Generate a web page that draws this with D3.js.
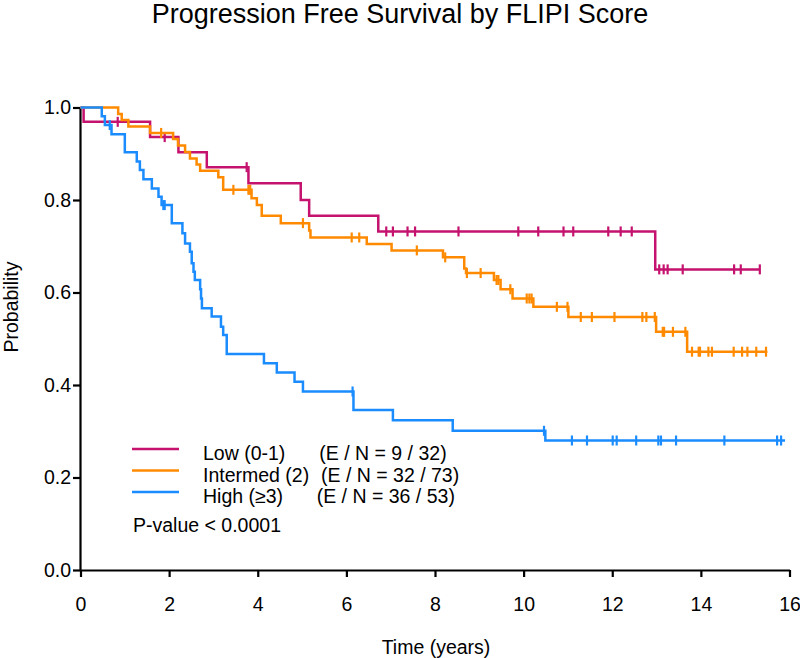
<!DOCTYPE html>
<html>
<head>
<meta charset="utf-8">
<script src="https://cdn.jsdelivr.net/npm/d3@7"></script>
<style>
  html, body { margin: 0; padding: 0; background: #fff; }
  svg { display: block; font-family: "Liberation Sans", Arial, Helvetica, sans-serif; }
</style>
</head>
<body>
<svg id="chart" width="800" height="658"></svg>
<script>
// ---------------- DATA ----------------
const title = "Progression Free Survival by FLIPI Score";
const xLabel = "Time (years)";
const yLabel = "Probability";
const xTicks = [0, 2, 4, 6, 8, 10, 12, 14, 16];
const yTicks = [0, 0.2, 0.4, 0.6, 0.8, 1.0];

const groupNames = ["Low (0-1)", "Intermed (2)", "High (\u22653)"];
const groupCounts = ["(E / N = 9 / 32)", "(E / N = 32 / 73)", "(E / N = 36 / 53)"];
const pValueText = "P-value < 0.0001";

// Low (0-1): event times, survival after each event, censoring times
const lowTimes = [0.07, 1.57, 2.21, 2.85, 3.79, 4.97, 5.16, 6.72, 12.97];
const lowSurv  = [0.969, 0.936, 0.903, 0.871, 0.836, 0.800, 0.766, 0.732, 0.650];
const lowCensor = [0.84, 1.90, 3.75, 6.90, 7.05, 7.38, 7.55, 8.53, 9.88, 10.33, 10.90, 11.12,
                   11.91, 12.19, 12.44, 13.06, 13.16, 13.25, 13.59, 14.75, 14.90, 15.33];
const lowEnd = 15.33;

// Intermed (2)
const midTimes = [0.85, 0.93, 1.08, 1.57, 2.09, 2.20, 2.36, 2.47, 2.62, 2.70, 3.11, 3.22, 3.86, 3.98,
                  4.09, 4.52, 5.16, 5.19, 6.46, 7.02, 8.18, 8.66, 8.70, 9.33, 9.48, 9.75, 10.22, 11.01,
                  12.99, 13.69];
const midSurv  = [0.986, 0.973, 0.959, 0.945, 0.932, 0.918, 0.904, 0.890, 0.877, 0.863, 0.849, 0.822,
                  0.804, 0.789, 0.766, 0.750, 0.734, 0.719, 0.705, 0.691, 0.676, 0.652, 0.642, 0.627,
                  0.607, 0.587, 0.569, 0.547, 0.515, 0.472];
const midCensor = [1.82, 3.45, 3.79, 3.83, 5.02, 6.12, 6.29, 7.59, 8.23, 8.72, 9.03, 9.39, 9.43, 9.70,
                   10.07, 10.13, 10.18, 10.75, 10.99, 11.29, 11.54, 12.05, 12.68, 12.77, 12.96, 13.14,
                   13.17, 13.37, 13.65, 13.80, 13.95, 13.98, 14.17, 14.25, 14.74, 14.93, 15.05, 15.25, 15.47];
const midEnd = 15.50;

// High (>=3)
const highTimes = [0.48, 0.55, 0.70, 1.00, 1.27, 1.34, 1.42, 1.61, 1.76, 1.83, 2.06, 2.30, 2.36, 2.47,
                   2.51, 2.55, 2.58, 2.70, 2.72, 2.74, 2.96, 3.17, 3.22, 3.30, 4.14, 4.43, 4.83, 5.02,
                   6.16, 7.05, 8.40, 10.49];
const highSurv  = [0.981, 0.962, 0.942, 0.903, 0.883, 0.865, 0.845, 0.825, 0.807, 0.789, 0.750, 0.728,
                   0.706, 0.688, 0.663, 0.645, 0.627, 0.607, 0.587, 0.566, 0.548, 0.526, 0.508, 0.467,
                   0.447, 0.427, 0.407, 0.386, 0.346, 0.324, 0.301, 0.280];
const highCensor = [0.66, 1.87, 1.90, 6.14, 10.46, 11.09, 11.43, 12.01, 12.10, 12.54, 13.04, 13.10,
                    13.44, 14.53, 15.72, 15.81];
const highEnd = 15.90;

const colors = ["#C4126E", "#FF8A00", "#1A8CFF"];

// ---------------- LAYOUT ----------------
const svg = d3.select("#chart");
const x = d3.scaleLinear().domain([0, 16]).range([80.5, 789.5]);
const y = d3.scaleLinear().domain([0, 1]).range([570, 107.5]);
const fontSize = 19.5;

const groups = [
  {times: lowTimes, surv: lowSurv, censor: lowCensor, end: lowEnd},
  {times: midTimes, surv: midSurv, censor: midCensor, end: midEnd},
  {times: highTimes, surv: highSurv, censor: highCensor, end: highEnd}
];

function survAt(g, t) {
  let s = 1;
  for (let i = 0; i < g.times.length; i++) { if (g.times[i] <= t) s = g.surv[i]; }
  return s;
}

// Title
svg.append("text").attr("x", 400).attr("y", 23).attr("text-anchor", "middle")
  .attr("font-size", 27).attr("fill", "#000").text(title);

// Axes
const yAxis = svg.append("g").attr("transform", "translate(80,0)")
  .call(d3.axisLeft(y).tickValues(yTicks).tickFormat(d3.format(".1f")).tickSize(7).tickSizeOuter(0).tickPadding(2));
const xAxis = svg.append("g").attr("transform", "translate(0,570)")
  .call(d3.axisBottom(x).tickValues(xTicks).tickFormat(d3.format("d")).tickSize(7).tickSizeOuter(0).tickPadding(20));
[yAxis, xAxis].forEach(a => {
  a.select(".domain").attr("stroke", "#000").attr("stroke-width", 2.2);
  a.selectAll(".tick line").attr("stroke", "#000").attr("stroke-width", 2.2);
  a.selectAll(".tick text").attr("font-size", fontSize).attr("fill", "#000")
    .attr("font-family", "\"Liberation Sans\", Arial, sans-serif");
});

// Axis labels
svg.append("text").attr("transform", "translate(18,307) rotate(-90)").attr("text-anchor", "middle")
  .attr("font-size", fontSize).attr("fill", "#000").text(yLabel);
svg.append("text").attr("x", 436).attr("y", 654).attr("text-anchor", "middle")
  .attr("font-size", fontSize).attr("fill", "#000").text(xLabel);

// Curves
const line = d3.line().x(d => x(d[0])).y(d => y(d[1])).curve(d3.curveStepAfter);
groups.forEach((g, i) => {
  const pts = [[0, 1]];
  g.times.forEach((t, k) => pts.push([t, g.surv[k]]));
  pts.push([g.end, g.surv[g.surv.length - 1]]);
  const gg = svg.append("g");
  gg.append("path").datum(pts).attr("d", line).attr("fill", "none")
    .attr("stroke", colors[i]).attr("stroke-width", 2.5).attr("stroke-linejoin", "miter");
  gg.selectAll("line.cens").data(g.censor).enter().append("line")
    .attr("x1", d => x(d)).attr("x2", d => x(d))
    .attr("y1", d => y(survAt(g, d)) - 5).attr("y2", d => y(survAt(g, d)) + 5)
    .attr("stroke", colors[i]).attr("stroke-width", 2.2);
});

// Legend
const legendY = [449, 470.5, 492];
const countX = [319.3, 321, 316.7];
groupNames.forEach((name, i) => {
  svg.append("line").attr("x1", 132).attr("x2", 179).attr("y1", legendY[i]).attr("y2", legendY[i])
    .attr("stroke", colors[i]).attr("stroke-width", 2.5);
  svg.append("text").attr("x", 203).attr("y", legendY[i] + 11.2).attr("font-size", fontSize)
    .attr("fill", "#000").text(name);
  svg.append("text").attr("x", countX[i]).attr("y", legendY[i] + 11.2).attr("font-size", fontSize)
    .attr("fill", "#000").text(groupCounts[i]);
});
svg.append("text").attr("x", 133).attr("y", 531.5).attr("font-size", fontSize)
  .attr("fill", "#000").text(pValueText);
</script>
</body>
</html>
